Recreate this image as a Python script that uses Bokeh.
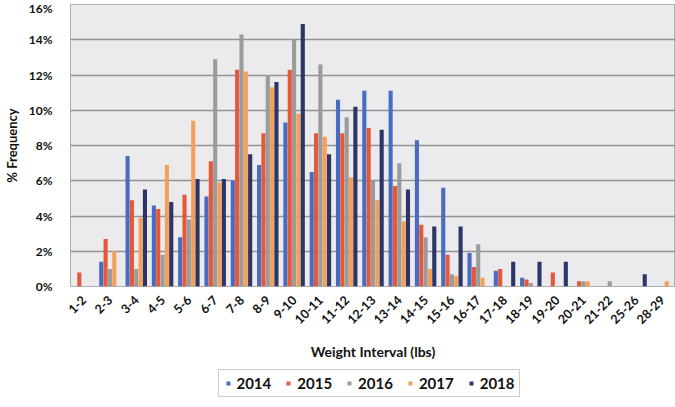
from bokeh.plotting import figure
from bokeh.layouts import column
from bokeh.models import ColumnDataSource, FactorRange, FixedTicker, PrintfTickFormatter, Legend, LegendItem, Range1d
from bokeh.transform import dodge
from bokeh.embed import file_html
from bokeh.resources import INLINE
import math

cats = ["1-2", "2-3", "3-4", "4-5", "5-6", "6-7", "7-8", "8-9", "9-10", "10-11", "11-12",
        "12-13", "13-14", "14-15", "15-16", "16-17", "17-18", "18-19", "19-20", "20-21",
        "21-22", "25-26", "28-29"]
years = ["2014", "2015", "2016", "2017", "2018"]
y2014 = [0, 1.4, 7.4, 4.6, 2.8, 5.1, 6.0, 6.9, 9.3, 6.5, 10.6, 11.1, 11.1, 8.3, 5.6, 1.9, 0.9, 0.5, 0, 0, 0, 0, 0]
y2015 = [0.8, 2.7, 4.9, 4.4, 5.2, 7.1, 12.3, 8.7, 12.3, 8.7, 8.7, 9.0, 5.7, 3.5, 1.8, 1.1, 1.0, 0.4, 0.8, 0.3, 0, 0, 0]
y2016 = [0, 1.0, 1.0, 1.8, 3.8, 12.9, 14.3, 12.0, 14.0, 12.6, 9.6, 6.0, 7.0, 2.8, 0.7, 2.4, 0, 0.2, 0, 0.3, 0.3, 0, 0]
y2017 = [0, 2.0, 3.9, 6.9, 9.4, 5.9, 12.2, 11.3, 9.8, 8.5, 6.2, 4.9, 3.7, 1.0, 0.6, 0.5, 0, 0, 0, 0.3, 0, 0, 0.3]
y2018 = [0, 0, 5.5, 4.8, 6.1, 6.1, 7.5, 11.6, 14.9, 7.5, 10.2, 8.9, 5.5, 3.4, 3.4, 0, 1.4, 1.4, 1.4, 0, 0, 0.7, 0]
y_ticks = [0, 2, 4, 6, 8, 10, 12, 14, 16]

colors = ["#4a6cc0", "#e5583a", "#9b9b9b", "#f5a05a", "#2b3566"]
series = [y2014, y2015, y2016, y2017, y2018]

src = ColumnDataSource(dict(cat=cats, **{yr: s for yr, s in zip(years, series)}))

FONT = "Lato"
p = figure(x_range=FactorRange(*cats), y_range=(0, 16), frame_width=605, frame_height=282,
           output_backend="svg", toolbar_location=None,
           min_border_left=62, min_border_right=0, min_border_top=4, min_border_bottom=0)
p.background_fill_color = "#ebebee"
p.border_fill_color = "white"
p.outline_line_color = "#b0b0b0"

bw = 0.165
for i, (yr, c) in enumerate(zip(years, colors)):
    off = (i - 2) * bw
    p.vbar(x=dodge("cat", off, range=p.x_range), top=yr, width=bw * 0.95, source=src,
           fill_color=c, line_color=None)

p.xgrid.grid_line_color = None
p.ygrid.grid_line_color = "#939393"
p.ygrid.grid_line_width = 1.6
p.yaxis.ticker = FixedTicker(ticks=y_ticks)
p.yaxis.formatter = PrintfTickFormatter(format="%d%%")
p.yaxis.axis_label = "% Frequency"
p.xaxis.axis_label = "Weight Interval (lbs)"
for ax in (p.xaxis, p.yaxis):
    ax.axis_line_color = None
    ax.major_tick_line_color = None
    ax.minor_tick_line_color = None
    ax.major_label_text_font = FONT
    ax.major_label_text_font_style = "bold"
    ax.major_label_text_font_size = "12px"
    ax.major_label_text_color = "#111111"
    ax.axis_label_text_font = FONT
    ax.axis_label_text_font_style = "bold"
    ax.axis_label_text_color = "#111111"
p.yaxis.axis_label_text_font_size = "13px"
p.xaxis.axis_label_text_font_size = "14px"
p.yaxis.major_label_standoff = 12
p.yaxis.axis_label_standoff = 6
p.xaxis.major_label_orientation = math.pi / 4
p.xaxis.major_label_text_font_size = "12.5px"
p.xaxis.major_label_standoff = 5
p.xaxis.axis_label_standoff = 12

# legend strip: same series drawn out of view, so only their legend entries show
lg = figure(width=667, height=40, x_range=FactorRange(*cats), y_range=Range1d(100, 101),
            output_backend="svg", toolbar_location=None,
            x_axis_location=None, y_axis_location=None,
            min_border_left=0, min_border_right=0, min_border_top=0, min_border_bottom=0)
lg.grid.visible = False
lg.outline_line_color = None
lg.background_fill_color = "white"
items = []
for i, (yr, c) in enumerate(zip(years, colors)):
    r = lg.scatter(x="cat", y=yr, source=src, marker="square", size=9,
                   fill_color=c, line_color=None)
    items.append(LegendItem(label=yr, renderers=[r]))

legend = Legend(items=items, orientation="horizontal", location="center")
legend.label_text_font = FONT
legend.label_text_font_style = "bold"
legend.label_text_font_size = "15px"
legend.label_text_color = "#111111"
legend.glyph_width = 10
legend.glyph_height = 10
legend.spacing = 12
legend.label_standoff = 4
legend.border_line_color = "#999999"
legend.border_line_width = 1.5
legend.padding = 4
legend.margin = 0
legend.background_fill_color = "white"
lg.add_layout(legend, "center")

layout = column(p, lg, spacing=0)
open("out.html", "w").write(file_html(layout, INLINE))
